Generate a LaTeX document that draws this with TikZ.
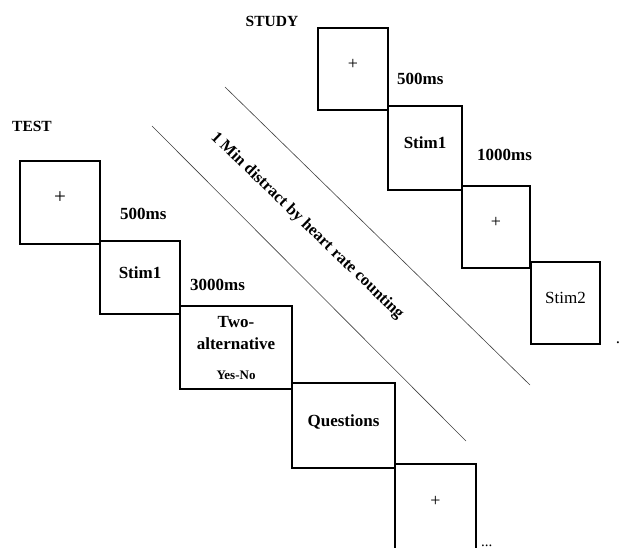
\documentclass[tikz,border=0pt]{standalone}
\usepackage{fontspec}
\setmainfont{Liberation Serif}
\usepackage{tikz}
\usetikzlibrary{positioning}
\tikzset{
  trialbox/.style={
    draw=black,
    shape=rectangle,
    line width=1.1pt,
    align=center,
    inner sep=0pt,
    outer sep=0pt,
  },
  fixbox/.style={
    trialbox,
    text depth=10pt,
    font=\fontsize{18}{20}\selectfont
  },
  stimbox/.style={
    trialbox,
    text depth=10pt,
    font=\bfseries\fontsize{17}{20}\selectfont
  },
  timing/.style={
    inner sep=0pt,
    font=\bfseries\fontsize{17}{20}\selectfont
  },
  phase/.style={
    inner sep=0pt,
    font=\bfseries\fontsize{15.5}{18}\selectfont
  },
  divider/.style={
    draw=black!75,
    line width=0.6pt,
  }
}

\begin{document}
\begin{tikzpicture}[x=1pt, y=-1pt]
    \useasboundingbox (0,0) rectangle (622,548);

    \node[phase] (study) at (272,21)  {STUDY};
    \node[phase] (test)  at (32,126)  {TEST};

    \node[fixbox,  minimum width=70pt, minimum height=82pt, anchor=north west] (sfix)   at (318,28)                   {+};
    \node[stimbox, minimum width=74pt, minimum height=84pt] (sstim)  [below right=-4pt and 0pt of sfix]   {Stim1};
    \node[fixbox,  minimum width=68pt, minimum height=82pt] (sfix2)  [below right=-4pt and 0pt of sstim]  {+};
    \node[stimbox, minimum width=69pt, minimum height=82pt, font=\fontsize{17}{20}\selectfont] (sstim2) [below right=-6pt and 1pt of sfix2] {Stim2};
    \node[inner sep=0pt, anchor=base, font=\fontsize{17}{20}\selectfont] (send) at (618,344) {.};

    \node[timing] (sdelay)  [right=9pt of sfix, yshift=-10pt]  {500ms};
    \node[timing] (sdelay2) [right=15pt of sstim, yshift=-7pt] {1000ms};

    \node[fixbox,  minimum width=80pt,  minimum height=83pt, font=\fontsize{21}{24}\selectfont, anchor=north west] (tfix) at (20,161) {+};
    \node[stimbox, minimum width=80pt,  minimum height=73pt] (tstim)   [below right=-3pt and 0pt of tfix]    {Stim1};
    \node[trialbox, minimum width=112pt, minimum height=83pt, font=\bfseries\fontsize{17}{22}\selectfont] (tchoice) [below right=-8pt and 0pt of tstim] {Two-\\alternative\\[8pt]{\fontsize{13}{15}\selectfont Yes-No}};
    \node[stimbox, minimum width=103pt, minimum height=85pt] (tquest)  [below right=-6pt and 0pt of tchoice] {Questions};
    \node[fixbox,  minimum width=81pt,  minimum height=92pt, text depth=18pt] (tfix2) [below right=-4pt and 0pt of tquest] {+};
    \node[inner sep=0pt, anchor=base west, font=\fontsize{15}{18}\selectfont] (tend) at (481,546) {...};

    \node[timing] (tdelay)  [right=20pt of tfix, yshift=-11pt] {500ms};
    \node[timing] (tdelay2) [right=10pt of tstim, yshift=-7pt] {3000ms};

    \coordinate (divA1) at (225,87);
    \coordinate (divA2) at (530,385);
    \coordinate (divB1) at (152,126);
    \coordinate (divB2) at (466,441);
    \draw[divider] (divA1) -- (divA2);
    \draw[divider] (divB1) -- (divB2);

    \node[rotate=-44, inner sep=0pt, font=\bfseries\fontsize{16.5}{20}\selectfont] (distract) at (307,226) {1 Min distract by heart rate counting};
  \end{tikzpicture}
\end{document}
